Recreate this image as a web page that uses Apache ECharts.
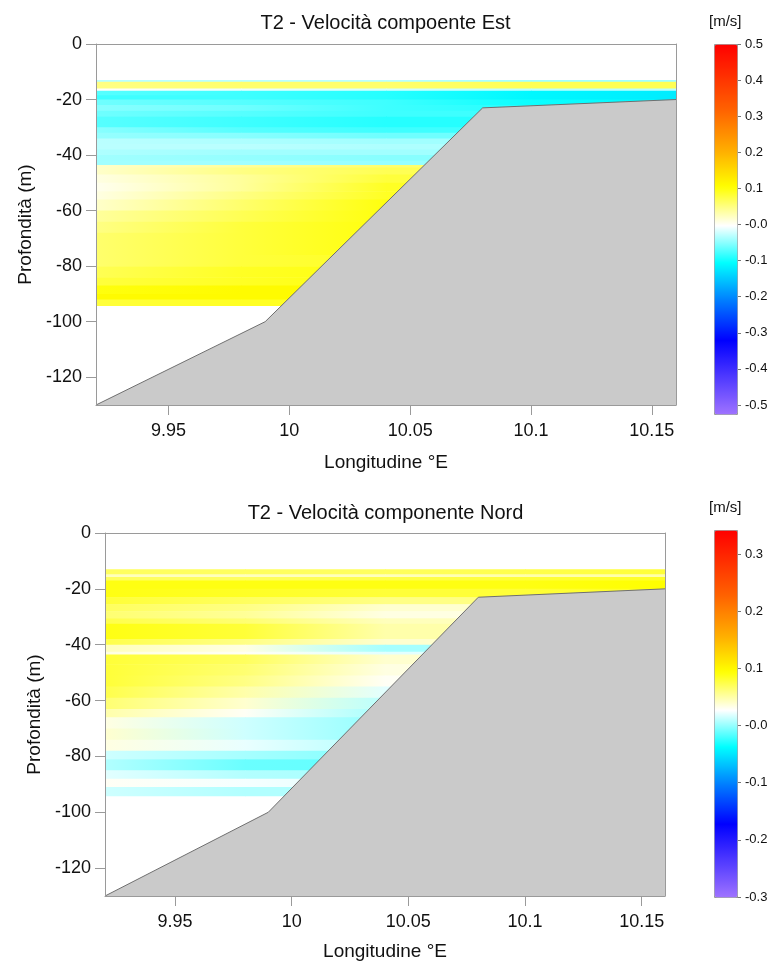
<!DOCTYPE html>
<html>
<head>
<meta charset="utf-8">
<title>T2 - Velocità</title>
<script src="https://cdn.jsdelivr.net/npm/echarts@6.0.0/dist/echarts.min.js"></script>
<style>
  html, body { margin: 0; padding: 0; background: #fff; }
  #chart { width: 771px; height: 965px; }
</style>
</head>
<body>
<div id="chart"></div>
<script>
// longitudine delle colonne dei profili (°E)
const lons = [9.92, 9.98, 10.04, 10.10, 10.16];

// fondale
const bathyLon = [9.92, 9.99, 10.08, 10.16];
const bathyDepth = [-130, -100, -23, -20];

// componente Est: limiti degli strati (m) e velocità per colonna (m/s)
const estDepthEdges = [-13, -13.6, -16, -16.8, -18.5, -20, -22, -24, -26, -28, -30, -32, -34, -36, -38, -40, -42, -43.6,
  -44.5, -47, -50, -53, -56, -60, -64, -68, -72, -76, -80, -84, -87, -90, -92, -94.1];
const estVel = [
  [-0.03, -0.03, -0.03, -0.04, -0.04],
  [0.05, 0.06, 0.06, 0.07, 0.07],
  [0.0, -0.01, -0.02, -0.03, -0.03],
  [-0.07, -0.08, -0.09, -0.11, -0.12],
  [-0.08, -0.08, -0.09, -0.11, -0.12],
  [-0.06, -0.07, -0.08, -0.10, -0.11],
  [-0.05, -0.06, -0.08, -0.09, -0.10],
  [-0.06, -0.07, -0.08, -0.08, -0.08],
  [-0.07, -0.08, -0.09, -0.09, -0.09],
  [-0.07, -0.08, -0.09, -0.09, -0.09],
  [-0.05, -0.07, -0.08, -0.08, -0.08],
  [-0.045, -0.05, -0.06, -0.06, -0.06],
  [-0.03, -0.035, -0.04, -0.04, -0.04],
  [-0.03, -0.03, -0.035, -0.035, -0.035],
  [-0.035, -0.04, -0.04, -0.04, -0.04],
  [-0.04, -0.045, -0.05, -0.05, -0.05],
  [-0.04, -0.04, -0.045, -0.045, -0.045],
  [0.02, 0.04, 0.06, 0.06, 0.06],
  [0.02, 0.05, 0.07, 0.07, 0.07],
  [0.01, 0.04, 0.08, 0.08, 0.08],
  [0.005, 0.04, 0.09, 0.09, 0.09],
  [0.01, 0.05, 0.09, 0.09, 0.09],
  [0.02, 0.06, 0.10, 0.10, 0.10],
  [0.04, 0.07, 0.10, 0.10, 0.10],
  [0.05, 0.08, 0.10, 0.10, 0.10],
  [0.06, 0.08, 0.10, 0.10, 0.10],
  [0.06, 0.08, 0.10, 0.10, 0.10],
  [0.06, 0.08, 0.09, 0.09, 0.09],
  [0.07, 0.09, 0.10, 0.10, 0.10],
  [0.08, 0.09, 0.10, 0.10, 0.10],
  [0.10, 0.11, 0.11, 0.11, 0.11],
  [0.11, 0.11, 0.11, 0.11, 0.11],
  [0.08, 0.09, 0.09, 0.09, 0.09]
];

// componente Nord
const nordDepthEdges = [-13, -14.8, -15.8, -17, -20, -23, -25.5, -28, -30.5, -32.5, -35, -38, -40, -42.5, -43.5,
  -47, -51, -55, -59, -63, -66, -70, -74, -78, -81, -85, -88, -91, -94.1];
const nordVel = [
  [0.07, 0.07, 0.07, 0.075, 0.08],
  [0.045, 0.045, 0.045, 0.05, 0.05],
  [0.07, 0.07, 0.075, 0.08, 0.085],
  [0.09, 0.09, 0.09, 0.09, 0.095],
  [0.09, 0.085, 0.08, 0.08, 0.085],
  [0.08, 0.07, 0.06, 0.06, 0.06],
  [0.07, 0.06, 0.04, 0.04, 0.04],
  [0.065, 0.055, 0.035, 0.035, 0.035],
  [0.075, 0.065, 0.045, 0.045, 0.045],
  [0.09, 0.08, 0.05, 0.05, 0.05],
  [0.09, 0.08, 0.05, 0.05, 0.05],
  [0.075, 0.06, 0.04, 0.04, 0.04],
  [0.045, 0.035, 0.005, 0.005, 0.005],
  [0.035, 0.03, 0.02, 0.02, 0.02],
  [0.08, 0.07, 0.04, 0.04, 0.04],
  [0.08, 0.065, 0.035, 0.035, 0.035],
  [0.08, 0.06, 0.03, 0.03, 0.03],
  [0.075, 0.05, 0.02, 0.02, 0.02],
  [0.065, 0.04, 0.01, 0.01, 0.01],
  [0.05, 0.03, 0.005, 0.005, 0.005],
  [0.035, 0.015, 0.0, 0.0, 0.0],
  [0.04, 0.015, 0.0, 0.0, 0.0],
  [0.035, 0.022, 0.008, 0.008, 0.008],
  [0.015, 0.005, -0.005, -0.005, -0.005],
  [0.008, -0.01, -0.012, -0.012, -0.012],
  [0.02, 0.008, 0.005, 0.005, 0.005],
  [0.03, 0.025, 0.02, 0.02, 0.02],
  [0.015, 0.008, 0.008, 0.008, 0.008]
];

// tacche
const lonTicks = [9.95, 10, 10.05, 10.1, 10.15];
const depthTicks = [0, -20, -40, -60, -80, -100, -120];
const estScaleTicks = [0.5, 0.4, 0.3, 0.2, 0.1, 0, -0.1, -0.2, -0.3, -0.4, -0.5];
const nordScaleTicks = [0.3, 0.2, 0.1, 0, -0.1, -0.2, -0.3];
const estRange = [-0.525, 0.5];
const nordRange = [-0.3, 0.342];

const FONT = '"Liberation Sans", Arial, sans-serif';
const TXT = '#111';
const FRAME = '#9a9a9a';

// scala colori (posizione relativa sulla barra)
const cmap = [
  [0, '#9f73ff'], [0.2, '#0000ff'], [0.31, '#0080ff'], [0.41, '#00ffff'], [0.51, '#ffffff'],
  [0.615, '#ffff00'], [0.71, '#ffb000'], [0.82, '#ff6400'], [1, '#ff0000']
];
const hex2rgb = h => [parseInt(h.slice(1, 3), 16), parseInt(h.slice(3, 5), 16), parseInt(h.slice(5, 7), 16)];
function colorFrac(f) {
  f = Math.max(0, Math.min(1, f));
  for (let i = 1; i < cmap.length; i++) {
    if (f <= cmap[i][0]) {
      const a = hex2rgb(cmap[i - 1][1]), b = hex2rgb(cmap[i][1]);
      const t = (f - cmap[i - 1][0]) / (cmap[i][0] - cmap[i - 1][0]);
      return 'rgb(' + a.map((v, k) => Math.round(v + (b[k] - v) * t)).join(',') + ')';
    }
  }
  return cmap[cmap.length - 1][1];
}
const colorOf = (v, range) => colorFrac((v - range[0]) / (range[1] - range[0]));
const barColors = Array.from({ length: 101 }, (_, i) => colorFrac(i / 100));

function buildCells(edges, rows) {
  const out = [];
  rows.forEach((row, i) => {
    for (let j = 0; j < lons.length - 1; j++) {
      out.push([lons[j], lons[j + 1], edges[i], edges[i + 1], row[j], row[j + 1]]);
    }
  });
  return out;
}

const heatItem = range => (params, api) => {
  const p0 = api.coord([api.value(0), api.value(2)]);
  const p1 = api.coord([api.value(1), api.value(3)]);
  return {
    type: 'rect',
    shape: { x: p0[0], y: p0[1], width: p1[0] - p0[0] + 0.6, height: p1[1] - p0[1] + 0.6 },
    style: {
      fill: new echarts.graphic.LinearGradient(0, 0, 1, 0, [
        { offset: 0, color: colorOf(api.value(4), range) },
        { offset: 1, color: colorOf(api.value(5), range) }
      ])
    }
  };
};

const scaleFmt = v => (v === 0 ? '-0.0' : v.toFixed(1));

function mainX(gi, gap) {
  return {
    gridIndex: gi, type: 'value', position: 'bottom', min: 9.92, max: 10.16, z: 10,
    name: 'Longitudine °E', nameLocation: 'middle', nameGap: gap,
    nameTextStyle: { fontSize: 19, color: TXT, fontFamily: FONT },
    axisLine: { onZero: false, lineStyle: { color: FRAME } },
    axisTick: { length: 10, customValues: lonTicks, lineStyle: { color: FRAME } },
    axisLabel: { customValues: lonTicks, margin: 17, fontSize: 18, color: TXT, fontFamily: FONT,
      formatter: v => String(+v.toFixed(2)) },
    splitLine: { show: false }
  };
}
function mainY(gi, gap) {
  return {
    gridIndex: gi, type: 'value', position: 'left', min: -130, max: 0, z: 10,
    name: 'Profondità (m)', nameLocation: 'middle', nameGap: gap,
    nameTextStyle: { fontSize: 19, color: TXT, fontFamily: FONT },
    axisLine: { onZero: false, lineStyle: { color: FRAME } },
    axisTick: { length: 10, customValues: depthTicks, lineStyle: { color: FRAME } },
    axisLabel: { customValues: depthTicks, margin: 14, fontSize: 18, color: TXT, fontFamily: FONT },
    splitLine: { show: false }
  };
}
const frameAxis = (gi, pos) => ({
  gridIndex: gi, type: 'value', position: pos, min: 0, max: 1, z: 10,
  axisLine: { show: true, onZero: false, lineStyle: { color: FRAME } },
  axisTick: { show: false }, axisLabel: { show: false }, splitLine: { show: false }
});
const hiddenX = gi => ({ gridIndex: gi, type: 'value', show: false, min: 0, max: 1 });
function scaleY(gi, range, ticks) {
  return {
    gridIndex: gi, type: 'value', position: 'right', min: range[0], max: range[1],
    axisLine: { show: false, onZero: false },
    axisTick: { length: 4, customValues: ticks, lineStyle: { color: '#777' } },
    axisLabel: { customValues: ticks, margin: 8, fontSize: 13, color: TXT, fontFamily: FONT, formatter: scaleFmt },
    splitLine: { show: false }
  };
}
const titleStyle = size => ({ fontSize: size, fontWeight: 'normal', color: TXT, fontFamily: FONT });

const chart = echarts.init(document.getElementById('chart'));
chart.setOption({
  animation: false,
  backgroundColor: '#fff',
  title: [
    { text: 'T2 - Velocità compoente Est', left: 'center', top: 13, padding: 0, textStyle: titleStyle(20) },
    { text: 'T2 - Velocità componente Nord', left: 'center', top: 503, padding: 0, textStyle: titleStyle(20) },
    { text: '[m/s]', left: 709, top: 14, padding: 0, textStyle: titleStyle(15) },
    { text: '[m/s]', left: 709, top: 500, padding: 0, textStyle: titleStyle(15) }
  ],
  grid: [
    { left: 96, top: 44, width: 580, height: 361 },
    { left: 714, top: 44, width: 23, height: 370 },
    { left: 105, top: 533, width: 560, height: 363 },
    { left: 714, top: 530, width: 23, height: 367 }
  ],
  xAxis: [
    mainX(0, 48), frameAxis(0, 'top'), hiddenX(1),
    mainX(2, 46), frameAxis(2, 'top'), hiddenX(3)
  ],
  yAxis: [
    mainY(0, 61), frameAxis(0, 'right'), scaleY(1, estRange, estScaleTicks),
    mainY(2, 60), frameAxis(2, 'right'), scaleY(3, nordRange, nordScaleTicks)
  ],
  visualMap: [
    { type: 'continuous', seriesIndex: 0, dimension: 4, min: estRange[0], max: estRange[1],
      calculable: false, hoverLink: false, left: 714, top: 44, itemWidth: 23, itemHeight: 370,
      padding: 0, borderColor: FRAME, borderWidth: 1, inRange: { color: barColors } },
    { type: 'continuous', seriesIndex: 2, dimension: 4, min: nordRange[0], max: nordRange[1],
      calculable: false, hoverLink: false, left: 714, top: 530, itemWidth: 23, itemHeight: 367,
      padding: 0, borderColor: FRAME, borderWidth: 1, inRange: { color: barColors } }
  ],
  series: [
    { type: 'custom', xAxisIndex: 0, yAxisIndex: 0, renderItem: heatItem(estRange),
      encode: { x: [0, 1], y: [2, 3] }, data: buildCells(estDepthEdges, estVel), silent: true },
    { type: 'line', xAxisIndex: 0, yAxisIndex: 0, data: bathyLon.map((x, i) => [x, bathyDepth[i]]),
      symbol: 'none', silent: true, z: 3,
      lineStyle: { color: '#6f6f6f', width: 1 }, areaStyle: { color: '#cacaca', opacity: 1, origin: 'start' } },
    { type: 'custom', xAxisIndex: 3, yAxisIndex: 3, renderItem: heatItem(nordRange),
      encode: { x: [0, 1], y: [2, 3] }, data: buildCells(nordDepthEdges, nordVel), silent: true },
    { type: 'line', xAxisIndex: 3, yAxisIndex: 3, data: bathyLon.map((x, i) => [x, bathyDepth[i]]),
      symbol: 'none', silent: true, z: 3,
      lineStyle: { color: '#6f6f6f', width: 1 }, areaStyle: { color: '#cacaca', opacity: 1, origin: 'start' } }
  ]
});
</script>
</body>
</html>
